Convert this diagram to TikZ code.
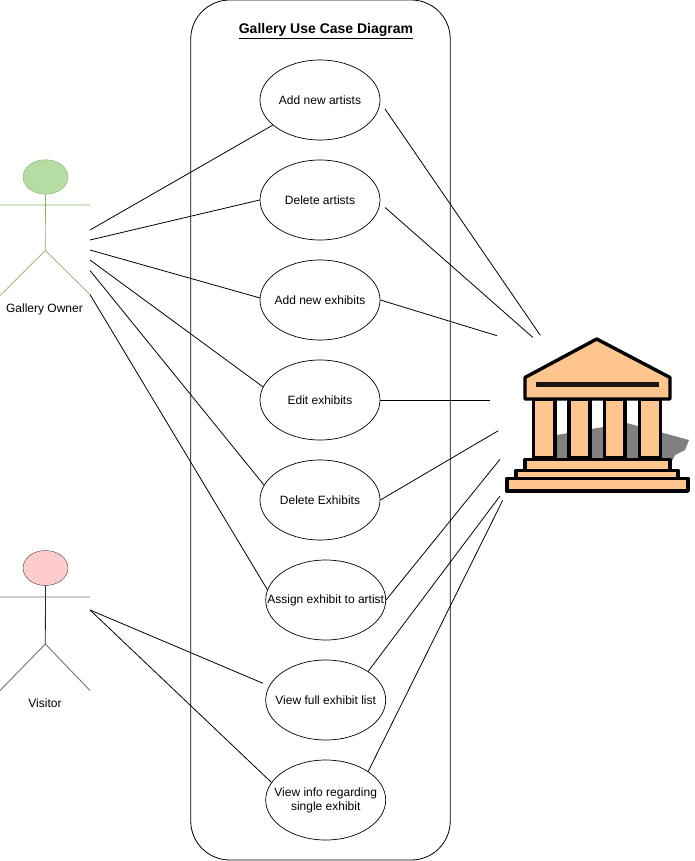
\documentclass[tikz,border=0pt]{standalone}
\usepackage{fontspec}
\setmainfont{Liberation Sans}
\usetikzlibrary{shapes.geometric}
\definecolor{bldfill}{HTML}{FFC58F}
\definecolor{ownerfill}{HTML}{B5DDA3}
\definecolor{ownerline}{HTML}{82B366}
\definecolor{visfill}{HTML}{FFCCCC}
\tikzset{
  lab/.style={font=\fontsize{12}{14}\selectfont,inner sep=0pt,align=center},
  uc/.style={draw=black,ellipse,minimum width=120pt,minimum height=80pt,inner sep=0pt,line width=0.7pt,fill=white,label={[lab]center:#1}},
  link/.style={draw=black,line width=0.8pt},
  bld/.style={draw=black,line width=3.4pt,fill=bldfill,line join=round}
}
\begin{document}
\begin{tikzpicture}[x=1pt,y=-1pt]
\useasboundingbox (0,0) rectangle (695,861);
\node[draw=black,line width=0.8pt,rounded corners=39pt,minimum width=259.5pt,minimum height=860pt,inner sep=0pt] (sys) at (320.5,430) {};
\node[inner sep=0pt,font=\fontsize{14}{16}\selectfont\bfseries] (title) at (326,31) {\underline{Gallery Use Case Diagram}};
\node[uc={Add new artists}] (u1) at (320,100) {};
\node[uc={Delete artists}] (u2) at (320,200) {};
\node[uc={Add new exhibits}] (u3) at (320,300) {};
\node[uc={Edit exhibits}] (u4) at (320,400) {};
\node[uc={Delete Exhibits}] (u5) at (320,500) {};
\node[uc={Assign exhibit to artist}] (u6) at (325.7,600) {};
\node[uc={View full exhibit list}] (u7) at (325.7,700) {};
\node[uc={View info regarding\\single exhibit}] (u8) at (325.7,800) {};
% owner
\node[draw=ownerline,fill=ownerfill,ellipse,minimum width=45pt,minimum height=34.5pt,inner sep=0pt] (ohead) at (45.5,177) {};
\coordinate (ohl) at (0,205);
\coordinate (ohr) at (90,205);
\coordinate (ohip) at (45.3,250.5);
\coordinate (ofl) at (0,295.5);
\coordinate (ofr) at (90,294.5);
\draw[ownerline,line width=0.7pt] (ohead.south) -- (ohip) (ohl) -- (ohr) (ofl) -- (ohip) -- (ofr);
\node[lab] (oname) at (44.5,309.5) {Gallery Owner};
% visitor
\node[draw=black!75,fill=visfill,ellipse,minimum width=45pt,minimum height=35pt,inner sep=0pt] (vhead) at (45.5,568) {};
\coordinate (vhl) at (0,597);
\coordinate (vhr) at (90,597);
\coordinate (vhip) at (45.3,644);
\coordinate (vfl) at (0,690.5);
\coordinate (vfr) at (90,690.5);
\draw[black!85,line width=0.8pt] (vhead.south) -- (vhip);
\draw[black!55,line width=0.9pt] (vhl) -- (vhr) (vfl) -- (vhip) -- (vfr);
\node[lab] (vname) at (45,703.5) {Visitor};
% owner links
\coordinate (o1) at (90,230);
\coordinate (o2) at (90,240);
\coordinate (o3) at (90,250);
\coordinate (o4) at (90,260);
\coordinate (o5) at (90,270.5);
\coordinate (o6) at (90,294.5);
\coordinate (v1) at (90,610);
\draw[link] (o1) -- (u1.208);
\draw[link] (o2) -- (u2.180);
\draw[link] (o3) -- (u3.178);
\draw[link] (o4) -- (u4.167);
\draw[link] (o5) -- (u5.165);
\draw[link] (o6) -- (u6.170);
\draw[link,shorten >=6.7pt] (v1) -- (u7.166);
\draw[link] (v1) -- (u8.162);
% building links
\coordinate (b1) at (540.3,335.3);
\coordinate (b2) at (532.7,337.3);
\coordinate (b3) at (497,335.7);
\coordinate (b4) at (490,400);
\coordinate (b5) at (498.3,430.7);
\coordinate (b6) at (500,459.3);
\coordinate (b7) at (500,496);
\coordinate (b8) at (502.7,500.3);
\draw[link,shorten <=8.2pt] (u1.358) -- (b1);
\draw[link,shorten <=6.6pt] (u2.357) -- (b2);
\draw[link] (u3.east) -- (b3);
\draw[link] (u4.east) -- (b4);
\draw[link] (u5.east) -- (b5);
\draw[link] (u6.east) -- (b6);
\draw[link] (u7.34) -- (b7);
\draw[link] (u8.34) -- (b8);
% building
\fill[black!50] (556.7,435) -- (626.7,423) -- (689,440) -- (685,450) -- (675,455) -- (670,465) -- (556.7,465) -- cycle;
\draw[bld] (533.5,399) rectangle (555,458);
\draw[bld] (569,399) rectangle (590,458);
\draw[bld] (604.5,399) rectangle (625,458);
\draw[bld] (639.5,399) rectangle (660.5,458);
\draw[bld] (525,377.5) -- (596.7,339) -- (670,377.5) -- (670,399) -- (525,399) -- cycle;
\fill[black!90!bldfill] (536,382) rectangle (659,387);
\draw[bld] (525,459.5) rectangle (670,471);
\draw[bld] (516,470.5) rectangle (678,480);
\draw[bld] (507,478.5) rectangle (688,491);
\end{tikzpicture}
\end{document}
